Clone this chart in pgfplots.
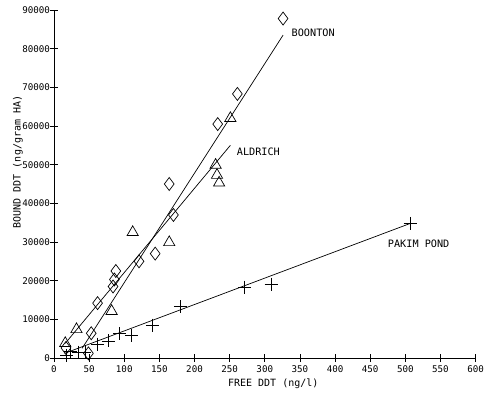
\documentclass[border=0pt]{standalone}
\usepackage{fontspec}
\setmainfont{DejaVu Sans Mono}
\usepackage{pgfplots}
\pgfplotsset{compat=1.18}
\begin{document}
\begin{tikzpicture}
\path[use as bounding box] (-54pt,-42pt) rectangle (436pt,358pt);
\begin{axis}[
  at={(0,0)}, anchor=south west,
  scale only axis, width=421.6pt, height=348pt,
  xmin=0, xmax=600, ymin=0, ymax=90000,
  axis x line*=bottom, axis y line*=left,
  axis line style={-, line width=0.8pt},
  xtick={0,50,...,600}, ytick={0,10000,...,90000},
  tick align=center, major tick length=8pt,
  tick style={line width=0.7pt, black},
  scaled ticks=false,
  /pgf/number format/assume math mode=true,
  /pgf/number format/1000 sep={},
  tick label style={font=\fontsize{9.2}{10}\selectfont},
  yticklabel style={xshift=3.5pt},
  xlabel={FREE DDT (ng/l)}, ylabel={BOUND DDT (ng/gram HA)},
  label style={font=\fontsize{12.4}{13}\selectfont},
  every axis x label/.style={at={(rel axis cs:0.52,0)}, anchor=north, yshift=-17pt},
  every axis y label/.style={at={(-36pt,196pt)}, anchor=center, rotate=90},
  clip=false,
]
\addplot[only marks, mark=diamond, mark size=6.5pt, mark options={line width=0.7pt, fill=none}] coordinates {
(17,2600) (49,1200) (53,6400) (62,14200) (84,18500) (86,20300) (88,22500)
(121,25000) (144,27000) (170,37000) (164,45000) (233,60500) (261,68300) (326,87800)};
\addplot[only marks, mark=triangle, mark size=6.5pt, mark options={line width=0.7pt, fill=none}] coordinates {
(16,3800) (32,7400) (82,12100) (112,32500) (164,29900) (230,49900) (232,47300) (235,45300) (251,62000)};
\addplot[only marks, mark=+, mark size=6.5pt, mark options={line width=0.8pt}] coordinates {
(18,700) (23,1600) (35,1500) (44,1500) (62,3600) (77,4400) (93,6300) (110,5900)
(140,8500) (180,13300) (271,18300) (309,19100) (507,34800)};
\addplot[line width=0.7pt, no marks] coordinates {(40,2500) (326,83500)};
\addplot[line width=0.7pt, no marks] coordinates {(16,3800) (251,55000)};
\addplot[line width=0.7pt, no marks] coordinates {(15,1200) (507,34800)};
\node[anchor=west, font=\fontsize{10.2}{11}\selectfont, inner sep=0pt] at (axis cs:338,84000) {BOONTON};
\node[anchor=west, font=\fontsize{10.2}{11}\selectfont, inner sep=0pt] at (axis cs:260,53300) {ALDRICH};
\node[anchor=west, font=\fontsize{10.2}{11}\selectfont, inner sep=0pt] at (axis cs:475,29600) {PAKIM POND};
\end{axis}
\end{tikzpicture}
\end{document}
